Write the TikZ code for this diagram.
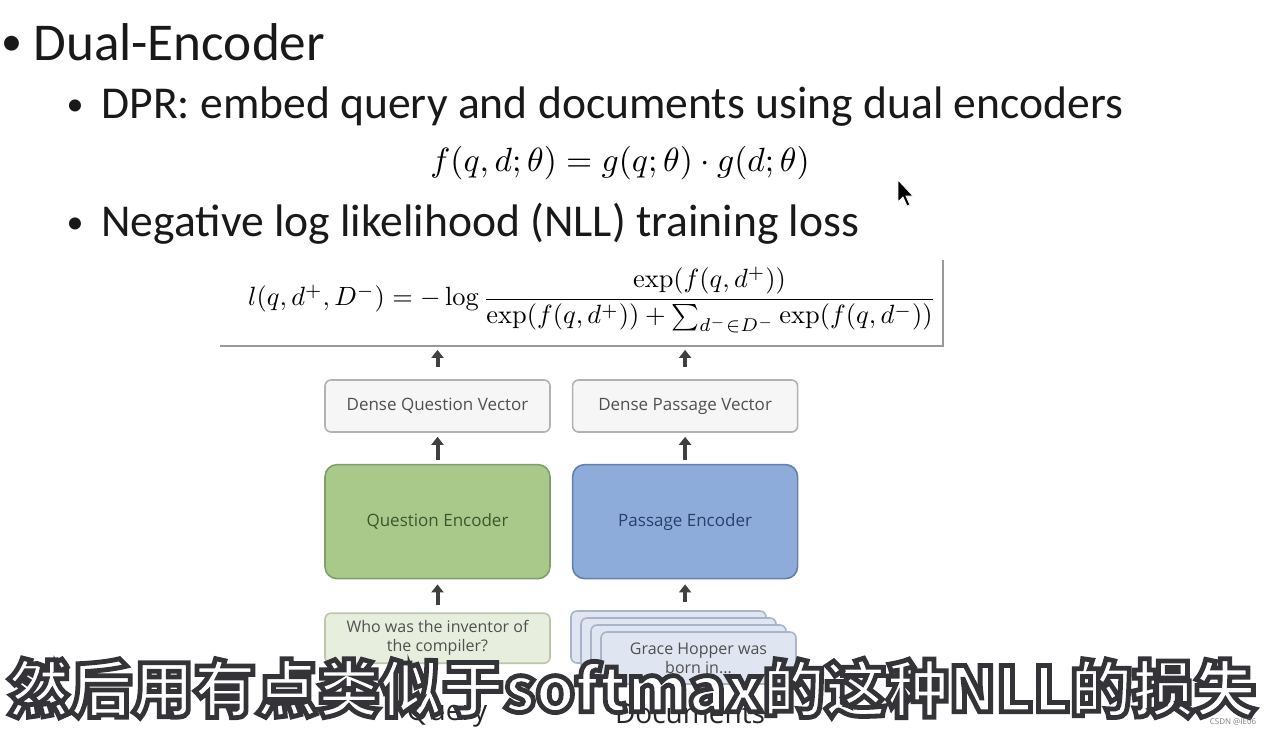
\documentclass[tikz,border=0pt]{standalone}
\usepackage{amsmath}
\usepackage{fontspec}
\newfontfamily\slidefont{Carlito}
\newfontfamily\figfont{Open Sans}
\newfontfamily\cjkfont{Noto Sans CJK SC}
\usetikzlibrary{positioning, arrows.meta}
\definecolor{vecfill}{RGB}{246,246,246}
\definecolor{vecline}{RGB}{178,178,178}
\definecolor{vectext}{RGB}{80,80,80}
\definecolor{qfill}{RGB}{169,201,139}
\definecolor{qline}{RGB}{128,158,106}
\definecolor{qtext}{RGB}{58,88,46}
\definecolor{pfill}{RGB}{141,172,218}
\definecolor{pline}{RGB}{100,128,176}
\definecolor{ptext}{RGB}{40,64,108}
\definecolor{infill}{RGB}{232,238,221}
\definecolor{inline}{RGB}{188,198,170}
\definecolor{docfill}{RGB}{223,230,242}
\definecolor{docline}{RGB}{168,180,202}
% subtitle: white letters with a dark stroked outline
\newcommand\outlined[1]{%
  \special{pdf:literal direct 2 Tr 2.4 w 0.2 0.2 0.22 RG}#1\special{pdf:literal direct 0 Tr}}
\tikzset{
    bullet/.style={anchor=base, inner sep=0pt, font=\slidefont\fontsize{17}{20}\selectfont, text=black!90},
    item/.style={anchor=base west, inner sep=0pt, font=\slidefont\fontsize{22.8}{26}\selectfont, text=black!90},
    vec/.style={rectangle, rounded corners=3pt, draw=vecline, fill=vecfill, thick, minimum width=112.5pt, minimum height=26pt, font=\figfont\fontsize{8.5}{10}\selectfont, text=vectext},
    qenc/.style={rectangle, rounded corners=6pt, draw=qline, fill=qfill, thick, minimum width=112.5pt, minimum height=57pt, font=\figfont\fontsize{8.5}{10}\selectfont, text=qtext},
    penc/.style={rectangle, rounded corners=6pt, draw=pline, fill=pfill, thick, minimum width=112.5pt, minimum height=57pt, font=\figfont\fontsize{8.5}{10}\selectfont, text=ptext},
    qin/.style={rectangle, rounded corners=3pt, draw=inline, fill=infill, thick, minimum width=112.5pt, minimum height=25pt, align=center, font=\figfont\fontsize{8}{9.5}\selectfont, text=vectext},
    doc/.style={rectangle, rounded corners=3pt, draw=docline, fill=docfill, thick, minimum width=97.5pt, minimum height=26pt, align=center, font=\figfont\fontsize{8}{9.5}\selectfont, text=vectext},
    label/.style={font=\figfont\fontsize{14}{16}\selectfont, text=black!85},
    lossbox/.style={rectangle, fill=white, minimum width=362pt, minimum height=43.5pt,
        preaction={fill=black!40, transform canvas={xshift=1.2pt, yshift=-1.2pt}}},
    up/.style={-{Triangle[width=6pt, length=4pt]}, line width=2pt, draw=black!75},
}
\begin{document}
\begin{tikzpicture}[x=0.5pt, y=-0.5pt]
    \useasboundingbox[fill=white] (0,0) rectangle (1278,736);
    % slide text
    \node [bullet, font=\slidefont\fontsize{21}{24}\selectfont] (b1) at (12,55) {•};
    \node [item, font=\slidefont\fontsize{26.6}{30}\selectfont] (t1) at (33,60) {Dual-Encoder};
    \node [bullet] (b2) at (75,115) {•};
    \node [item] (t2) at (101,118) {DPR: embed query and documents using dual encoders};
    \node (score) at (620,163) {\scalebox{1.68}{$f(q,d;\theta)=g(q;\theta)\cdot g(d;\theta)$}};
    \node [bullet] (b3) at (75,233) {•};
    \node [item] (t3) at (101,236) {Negative log likelihood (NLL) training loss};
    \node [lossbox] (loss) at (580,301) {};
    \node (nll) at (592,300)
        {\scalebox{1.32}{$l(q,d^+,D^-)=-\log\dfrac{\exp(f(q,d^+))}{\exp(f(q,d^+))+\sum_{d^-\in D^-}\exp(f(q,d^-))}$}};
    % diagram
    \node [vec] (qvec) at (437.5,406) {Dense Question Vector};
    \node [vec] (pvec) [right=10.5pt of qvec] {Dense Passage Vector};
    \node [qenc] (qe) [below=15.5pt of qvec] {Question Encoder};
    \node [penc] (pe) [below=15.5pt of pvec] {Passage Encoder};
    \node [qin] (query) [below=16.5pt of qe] {Who was the inventor of\\the compiler?};
    \node [doc] (d1) at (668.5,637) {};
    \node [doc, xshift=5pt, yshift=-3.5pt] (d2) at (d1) {};
    \node [doc, xshift=10pt, yshift=-7pt] (d3) at (d1) {};
    \node [doc, xshift=15pt, yshift=-10.5pt] (d4) at (d1) {Grace Hopper was\\born in...};
    \node [label] (ql) at (447,714) {Query};
    \node [label] (dl) at (690,714) {Documents};
    \draw[up, shorten <=3.5pt, shorten >=2.5pt] (query) -- (qe);
    \draw[up, shorten <=4pt, shorten >=2.5pt] (pe.south |- d1.north) -- (pe.south);
    \draw[up, shorten <=2pt, shorten >=2pt] (qe) -- (qvec);
    \draw[up, shorten <=2pt, shorten >=2pt] (pe) -- (pvec);
    \draw[up, shorten <=6pt, shorten >=2.5pt] (qvec.north) -- (qvec.north |- loss.south);
    \draw[up, shorten <=6pt, shorten >=2.5pt] (pvec.north) -- (pvec.north |- loss.south);
    % mouse pointer
    \fill[black, draw=white, line width=0.4pt] (898,180) -- (898,202) -- (903,197) -- (907,206) -- (910,205) -- (906,196) -- (913,196) -- cycle;
    % subtitle and watermark
    \node [font=\cjkfont\bfseries\fontsize{31}{34}\selectfont, text=white] (sub) at (632,688)
        {\outlined{然后用有点类似于softmax的这种NLL的损失}};
    \node [font=\figfont\fontsize{4}{5}\selectfont, text=black!50] (wm) at (1233,722) {CSDN @IE06};
\end{tikzpicture}
\end{document}
